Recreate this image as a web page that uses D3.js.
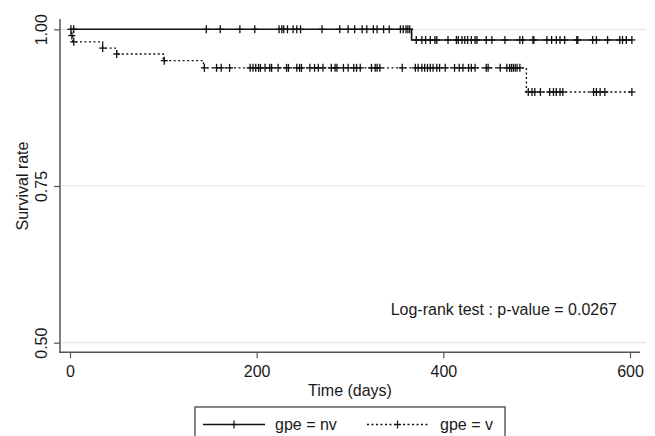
<!doctype html>
<html>
<head>
<meta charset="utf-8">
<title>Survival</title>
<script src="https://cdn.jsdelivr.net/npm/d3@7"></script>
<style>
  body { margin: 0; background: #fff; }
  svg text { font-family: "Liberation Sans", Arial, Helvetica, sans-serif; fill: #1a1a1a; }
</style>
</head>
<body>
<script>
  // Kaplan-Meier steps (time in days, survival after drop)
  var nvEventTimes = [366];
  var nvSurvival   = [0.983];
  var nvCensor = [1, 4, 146, 161, 182, 198, 224, 227, 229, 233, 239, 243, 247, 270, 289,
    298, 305, 313, 318, 325, 329, 336, 342, 354, 357, 360, 362, 364,
    371, 377, 381, 386, 391, 393, 405, 414, 416, 420, 423, 426, 430, 434, 436, 446,
    452, 466, 482, 485, 496, 497, 511, 516, 521, 525, 530, 543, 544, 560, 564, 576,
    589, 592, 596, 602];
  var nvEnd = 602;

  var vEventTimes = [1, 3, 35, 50, 100, 143, 489];
  var vSurvival   = [0.99, 0.98, 0.97, 0.9606, 0.95, 0.9385, 0.90];
  var vCensor = [2, 4, 35, 50, 101, 144, 157, 162, 171, 193, 196, 199, 202, 204, 209, 214,
    216, 223, 232, 234, 243, 246, 248, 257, 262, 266, 271, 280, 284, 286, 293, 298,
    304, 307, 311, 323, 327, 329, 332, 356, 370, 373, 377, 380, 383, 386, 389, 393,
    396, 402, 412, 417, 421, 427, 430, 434, 446, 448, 461, 468, 471, 473, 475, 477,
    479, 482, 491, 495, 498, 504, 514, 518, 521, 525, 528, 561, 564, 568, 573, 602];
  var vEnd = 602;

  var yTicks = [0.5, 0.75, 1];
  var xTicks = [0, 200, 400, 600];

  var W = 655, H = 436;
  var svg = d3.select('body').append('svg')
      .attr('width', W)
      .attr('height', H);

  var x = d3.scaleLinear().domain([0, 600]).range([70, 630]);
  var y = d3.scaleLinear().domain([0.5, 1]).range([342.7, 29.3]);

  // grid lines
  svg.selectAll('line.grid').data(yTicks).enter().append('line')
      .attr('class', 'grid')
      .attr('x1', 61).attr('x2', 646)
      .attr('y1', function(d){ return y(d); })
      .attr('y2', function(d){ return y(d); })
      .attr('stroke', '#e6e6e6').attr('stroke-width', 1.2);

  // axes
  var yAxis = svg.append('g').attr('transform', 'translate(60,0)')
      .call(d3.axisLeft(y).tickValues(yTicks).tickFormat(d3.format('.2f')).tickSize(6));
  yAxis.select('.domain').remove();
  yAxis.selectAll('.tick line').attr('stroke', '#555').attr('stroke-width', 1.2);
  yAxis.selectAll('.tick text')
      .attr('transform', 'rotate(-90)')
      .attr('x', 0).attr('y', -13).attr('dy', 0)
      .attr('text-anchor', 'middle')
      .style('font-size', '16px');

  var xAxis = svg.append('g').attr('transform', 'translate(0,352.3)')
      .call(d3.axisBottom(x).tickValues(xTicks).tickSize(6));
  xAxis.select('.domain').remove();
  xAxis.selectAll('.tick line').attr('stroke', '#555').attr('stroke-width', 1.2);
  xAxis.selectAll('.tick text')
      .attr('y', 24.5).attr('dy', 0)
      .style('font-size', '16px');

  svg.append('line').attr('x1', 60).attr('x2', 60).attr('y1', 19).attr('y2', 353)
      .attr('stroke', '#555').attr('stroke-width', 1.5);
  svg.append('line').attr('x1', 59.3).attr('x2', 640).attr('y1', 352.3).attr('y2', 352.3)
      .attr('stroke', '#555').attr('stroke-width', 1.5);

  svg.append('text').attr('transform', 'translate(28,186) rotate(-90)')
      .attr('text-anchor', 'middle').style('font-size', '16px')
      .text('Survival rate');
  svg.append('text').attr('x', 350).attr('y', 395.5)
      .attr('text-anchor', 'middle').style('font-size', '16px')
      .text('Time (days)');
  svg.append('text').attr('x', 617).attr('y', 315)
      .attr('text-anchor', 'end').style('font-size', '16px')
      .text('Log-rank test : p-value = 0.0267');

  // curves
  function stepPoints(times, surv, end) {
    var pts = [[0, 1]];
    times.forEach(function(t, i){ pts.push([t, surv[i]]); });
    pts.push([end, surv[surv.length - 1]]);
    return pts;
  }
  function survAt(times, surv, t) {
    var s = 1;
    times.forEach(function(et, i){ if (et <= t) s = surv[i]; });
    return s;
  }
  var line = d3.line()
      .x(function(d){ return x(d[0]); })
      .y(function(d){ return y(d[1]); })
      .curve(d3.curveStepAfter);

  var groups = [
    {ev: nvEventTimes, s: nvSurvival, c: nvCensor, end: nvEnd, dash: null, w: 1.6},
    {ev: vEventTimes, s: vSurvival, c: vCensor, end: vEnd, dash: '2,2.5', w: 1.4}
  ];

  groups.forEach(function(g){
    svg.append('path')
        .attr('d', line(stepPoints(g.ev, g.s, g.end)))
        .attr('fill', 'none')
        .attr('stroke', '#111')
        .attr('stroke-width', g.w)
        .attr('stroke-dasharray', g.dash);

    var marks = svg.append('g').selectAll('g').data(g.c).enter().append('g')
        .attr('transform', function(t){
          return 'translate(' + x(t) + ',' + y(survAt(g.ev, g.s, t)) + ')';
        });
    marks.append('line').attr('x1', 0).attr('x2', 0).attr('y1', -4).attr('y2', 4)
        .attr('stroke', '#111').attr('stroke-width', 1.3);
    marks.append('line').attr('x1', -3.5).attr('x2', 3.5).attr('y1', 0).attr('y2', 0)
        .attr('stroke', '#111').attr('stroke-width', 1.3);
  });

  // legend
  var legend = svg.append('g');
  legend.append('rect').attr('x', 195).attr('y', 407).attr('width', 310).attr('height', 50)
      .attr('fill', '#fff').attr('stroke', '#444').attr('stroke-width', 1.3);
  var legItems = [
    {x0: 203, x1: 265, tx: 275, label: 'gpe = nv', dash: null},
    {x0: 367, x1: 428, tx: 440, label: 'gpe = v', dash: '2,2.5'}
  ];
  legItems.forEach(function(it){
    legend.append('line').attr('x1', it.x0).attr('x2', it.x1).attr('y1', 424.5).attr('y2', 424.5)
        .attr('stroke', '#111').attr('stroke-width', 1.4).attr('stroke-dasharray', it.dash);
    var cx = (it.x0 + it.x1) / 2;
    legend.append('line').attr('x1', cx).attr('x2', cx).attr('y1', 420.5).attr('y2', 428.5)
        .attr('stroke', '#111').attr('stroke-width', 1.2);
    legend.append('line').attr('x1', cx - 3.5).attr('x2', cx + 3.5).attr('y1', 424.5).attr('y2', 424.5)
        .attr('stroke', '#111').attr('stroke-width', 1.2);
    legend.append('text').attr('x', it.tx).attr('y', 430)
        .style('font-size', '16px').text(it.label);
  });
</script>
</body>
</html>
